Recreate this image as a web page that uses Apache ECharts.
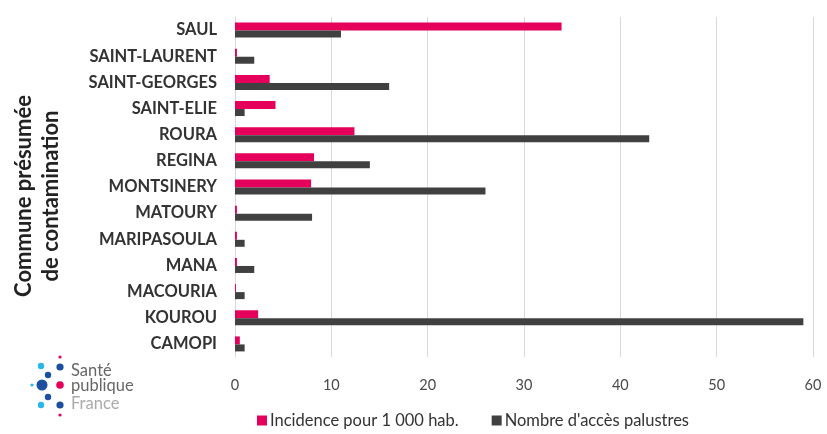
<!DOCTYPE html>
<html>
<head>
<meta charset="utf-8">
<script src="https://cdn.jsdelivr.net/npm/echarts@6/dist/echarts.min.js"></script>
<style>
  html, body { margin: 0; padding: 0; background: #fff; }
  #chart { width: 827px; height: 434px; }
</style>
</head>
<body>
<div id="chart"></div>
<script>
// Communes (top to bottom)
const communes = ['SAUL', 'SAINT-LAURENT', 'SAINT-GEORGES', 'SAINT-ELIE', 'ROURA', 'REGINA',
  'MONTSINERY', 'MATOURY', 'MARIPASOULA', 'MANA', 'MACOURIA', 'KOUROU', 'CAMOPI'];
// Incidence pour 1 000 habitants
const incidence = [33.9, 0.2, 3.6, 4.2, 12.4, 8.2, 7.9, 0.2, 0.2, 0.2, 0.1, 2.4, 0.5];
// Nombre d'accès palustres
const acces = [11, 2, 16, 1, 43, 14, 26, 8, 1, 2, 1, 59, 1];
const xTicks = { min: 0, max: 60, interval: 10 };

const PINK = '#e4005b';
const DARK = '#404040';
const FONT = 'Lato, "Open Sans", sans-serif';

const chart = echarts.init(document.getElementById('chart'), null, { renderer: 'canvas' });

// Logo dots (Santé publique France)
const dots = [
  [41, 366, 3.2, '#29b6e8'], [48, 375, 3.2, '#1c4fa0'], [60, 367, 3.6, '#1c4fa0'],
  [60, 357, 1.6, PINK], [42, 385, 5.5, '#1c4fa0'], [32, 385, 1.6, '#29b6e8'],
  [60, 385, 3.8, PINK], [48, 397, 3.2, '#1c4fa0'], [41, 405, 3.2, '#29b6e8'],
  [60, 405, 3.6, '#1c4fa0'], [60, 415, 1.6, PINK]
];
const logo = dots.map(d => ({
  type: 'circle', shape: { cx: d[0], cy: d[1], r: d[2] }, style: { fill: d[3] }, silent: true
}));
logo.push(
  { type: 'text', left: 71, top: 362, style: { text: 'Santé', font: '16.5px ' + FONT, fill: '#666' } },
  { type: 'text', left: 71, top: 377, style: { text: 'publique', font: '16.5px ' + FONT, fill: '#666' } },
  { type: 'text', left: 71, top: 395, style: { text: 'France', font: '16.5px ' + FONT, fill: '#aaa' } }
);

chart.setOption({
  animation: false,
  textStyle: { fontFamily: FONT },
  grid: { left: 235, right: 14, top: 17, bottom: 77, containLabel: false },
  legend: {
    bottom: 0, left: 252, itemWidth: 10, itemHeight: 10, itemGap: 33,
    icon: 'rect',
    textStyle: { fontSize: 16.5, color: '#333', fontFamily: FONT, padding: [0, 0, 0, -2] },
    data: ['Incidence pour 1 000 hab.', "Nombre d'accès palustres"]
  },
  xAxis: {
    type: 'value', min: xTicks.min, max: xTicks.max, interval: xTicks.interval,
    axisLine: { show: false }, axisTick: { show: false },
    axisLabel: { fontSize: 14.5, color: '#4a4a4a', margin: 21, fontFamily: FONT },
    splitLine: { lineStyle: { color: '#d9d9d9', width: 1 } }
  },
  yAxis: {
    type: 'category', data: communes, inverse: true,
    axisLine: { lineStyle: { color: '#d9d9d9' } }, axisTick: { show: false },
    axisLabel: { fontSize: 16.5, fontWeight: 'bold', color: '#333', margin: 18, fontFamily: FONT },
    name: 'Commune présumée\nde contamination',
    nameLocation: 'middle', nameRotate: 90, nameGap: 171,
    nameTextStyle: {
      fontSize: 22, fontWeight: 'bold', color: '#222', lineHeight: 27, fontFamily: FONT,
      padding: [0, 18, 0, 0]
    }
  },
  series: [
    {
      name: 'Incidence pour 1 000 hab.', type: 'bar', data: incidence,
      itemStyle: { color: PINK }, barWidth: 8, barGap: '0%'
    },
    {
      name: "Nombre d'accès palustres", type: 'bar', data: acces,
      itemStyle: { color: DARK }, barWidth: 7, barGap: '0%'
    }
  ],
  graphic: logo
});
</script>
</body>
</html>
